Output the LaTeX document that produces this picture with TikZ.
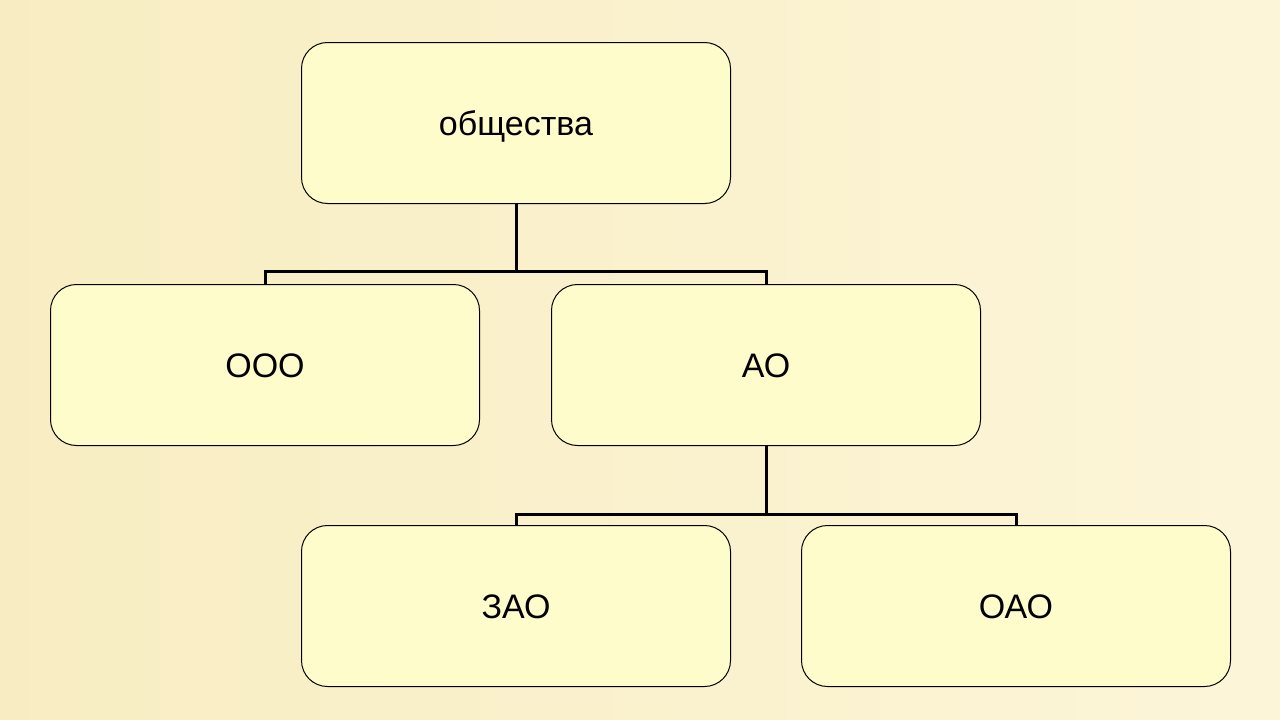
\documentclass[tikz,border=0pt]{standalone}
\usepackage{fontspec}
\setmainfont{Liberation Sans}
\definecolor{bg}{HTML}{F8EDC2}
\definecolor{bglight}{HTML}{FCF5D8}
\definecolor{boxfill}{HTML}{FFFCCB}
\begin{document}
\begin{tikzpicture}[x=1pt,y=-1pt,
  orgbox/.style={draw=black, line width=1pt, fill=boxfill, rounded corners=26pt,
    minimum width=429pt, minimum height=161pt, inner sep=0pt,
    text height=24pt, text depth=0pt,
    font=\fontsize{34}{40}\selectfont, anchor=north west},
  link/.style={draw=black, line width=3pt}]
\shade[left color=bg, right color=bglight] (0,0) rectangle (1280,720);
\useasboundingbox (0,0) rectangle (1280,720);
\node[orgbox] (top) at (301,42) {общества};
\node[orgbox] (ooo) at (50,284) {ООО};
\node[orgbox] (ao) at (551,284) {АО};
\node[orgbox] (zao) at (301,525) {ЗАО};
\node[orgbox] (oao) at (801,525) {ОАО};
\draw[link] (top.south) -- ++(0,67) -| (ooo.north);
\draw[link] (top.south) ++(0,67) -| (ao.north);
\draw[link] (ao.south) -- ++(0,68) -| (zao.north);
\draw[link] (ao.south) ++(0,68) -| (oao.north);
\end{tikzpicture}
\end{document}
